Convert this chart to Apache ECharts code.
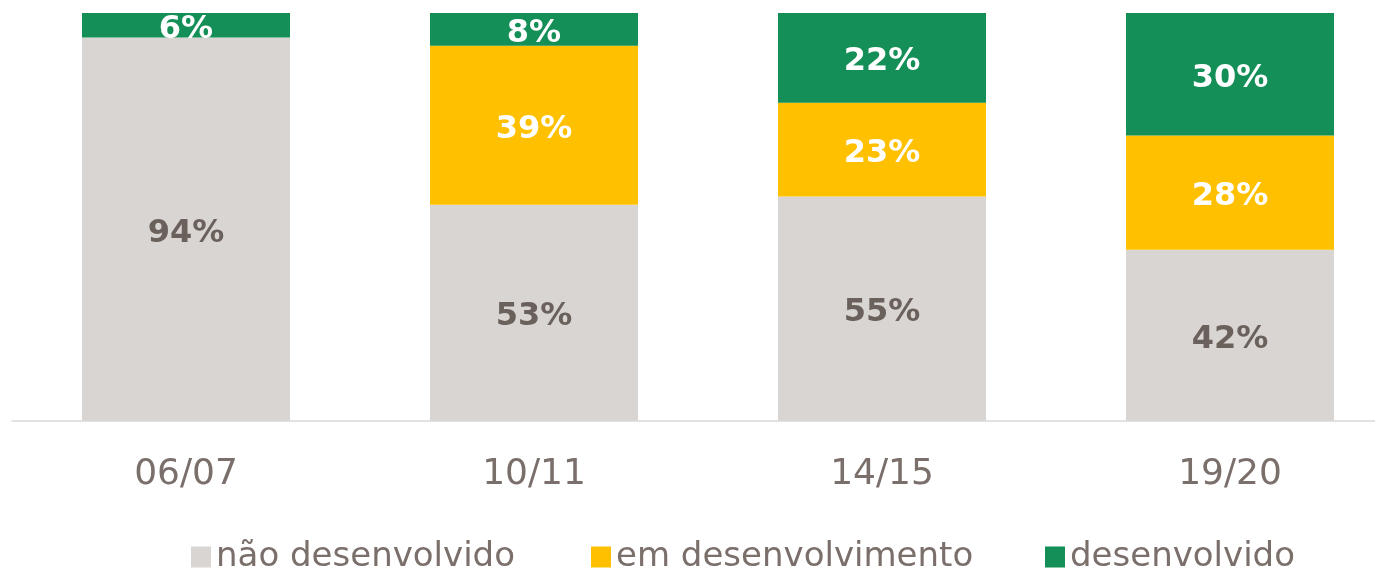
<!DOCTYPE html>
<html>
<head>
<meta charset="utf-8">
<script src="https://cdn.jsdelivr.net/npm/echarts@6/dist/echarts.min.js"></script>
<style>
  html, body { margin: 0; padding: 0; background: #fff; overflow: hidden; }
  /* o gráfico é um pouco mais largo que a janela: a última coluna passa da borda */
  #chart { width: 1404px; height: 568px; }
</style>
</head>
<body>
<div id="chart"></div>
<script>
// dados
const categories = ['06/07', '10/11', '14/15', '19/20']
const naoDesenvolvido = [94, 53, 55, 42]
const emDesenvolvimento = [0, 39, 23, 28]
const desenvolvido = [6, 8, 22, 30]

const font = 'DejaVu Sans'
const textGray = '#7a6f6a'

const myChart = echarts.init(document.getElementById('chart'))

const pctLabel = (color) => ({
  show: true,
  position: 'inside',
  offset: [0, 4],
  color: color,
  fontFamily: font,
  fontWeight: 'bold',
  fontSize: 32,
  formatter: (p) => (p.value ? p.value + '%' : '')
})

// uma legenda por item, para acertar a posição de cada um
const legendAt = (name, left) => ({
  top: 535,
  left: left,
  icon: 'rect',
  itemWidth: 20,
  itemHeight: 21,
  textStyle: { color: textGray, fontFamily: font, fontSize: 34 },
  data: [name]
})

const option = {
  animation: false,
  backgroundColor: '#fff',
  grid: { left: 12, right: 0, top: 13, bottom: 147 },
  legend: [
    legendAt('não desenvolvido', 186),
    legendAt('em desenvolvimento', 586),
    legendAt('desenvolvido', 1040)
  ],
  xAxis: {
    type: 'category',
    data: categories,
    axisTick: { show: false },
    axisLine: { lineStyle: { color: '#d9d9d9', width: 1.5 } },
    axisLabel: { color: textGray, fontFamily: font, fontSize: 36, margin: 36 }
  },
  yAxis: {
    type: 'value',
    min: 0,
    max: 100,
    show: false
  },
  series: [
    {
      name: 'não desenvolvido',
      type: 'bar',
      stack: 'total',
      barWidth: 208,
      data: naoDesenvolvido,
      itemStyle: { color: '#d9d5d2' },
      label: pctLabel('#6b615c')
    },
    {
      name: 'em desenvolvimento',
      type: 'bar',
      stack: 'total',
      data: emDesenvolvimento,
      itemStyle: { color: '#ffc000' },
      label: pctLabel('#ffffff')
    },
    {
      name: 'desenvolvido',
      type: 'bar',
      stack: 'total',
      data: desenvolvido,
      itemStyle: { color: '#138f57' },
      label: pctLabel('#ffffff')
    }
  ]
}

myChart.setOption(option)
</script>
</body>
</html>
